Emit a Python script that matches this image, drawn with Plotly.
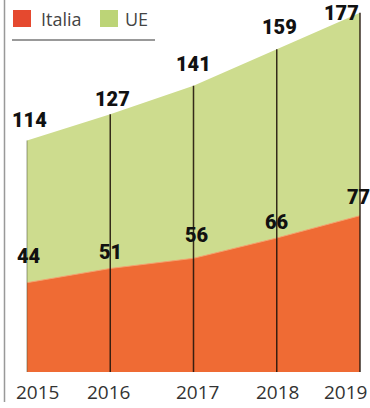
import plotly.graph_objects as go

# ---- data ----
years = [2015, 2016, 2017, 2018, 2019]
year_labels = ["2015", "2016", "2017", "2018", "2019"]
italia = [44, 51, 56, 66, 77]
ue = [114, 127, 141, 159, 177]
series_names = ["Italia", "UE"]

# ---- styles ----
W, H = 370, 408
ORANGE = "#EF6B34"
GREEN = "#CDDC8E"
LEG_RED = "#E5492F"
LEG_GREEN = "#BCD477"
px_per_year = 83.25
px_per_unit = 2.03
x0 = 2015 - 27 / px_per_year
x1 = x0 + W / px_per_year
y0 = -36 / px_per_unit
y1 = y0 + H / px_per_unit

ue_label_dx = [2, 2, 0, 3, -19]
ue_label_dy = [21, 15, 22, 22, 0]
it_label_dx = [1, 0, 3, 0, -2]
it_label_dy = [27, 16, 23, 16, 19]
year_dx = [10, -2, 4, 1, -15]

fig = go.Figure()
fig.add_trace(go.Scatter(x=years, y=ue, mode="lines", fill="tozeroy",
                         fillcolor=GREEN, line=dict(color=GREEN, width=0),
                         name=series_names[1], showlegend=False, hoverinfo="skip"))
fig.add_trace(go.Scatter(x=years, y=italia, mode="lines", fill="tozeroy",
                         fillcolor=ORANGE, line=dict(color="#F4A16F", width=1),
                         name=series_names[0], showlegend=False, hoverinfo="skip"))

# vertical year lines
vx, vy = [], []
for yr, v in zip(years[1:], ue[1:]):
    vx += [yr, yr, None]
    vy += [0, v, None]
fig.add_trace(go.Scatter(x=vx, y=vy, mode="lines",
                         line=dict(color="rgba(35,22,12,0.9)", width=1.5),
                         showlegend=False, hoverinfo="skip"))
fig.add_trace(go.Scatter(x=[years[0], years[0]], y=[0, ue[0]], mode="lines",
                         line=dict(color="rgba(70,80,50,0.45)", width=1.2),
                         showlegend=False, hoverinfo="skip"))

ann = []
lab_font = dict(family="Roboto", size=20, color="#111", weight=900)
for i, (yr, v) in enumerate(zip(years, ue)):
    ann.append(dict(x=yr, y=v, text=str(v), showarrow=False, font=lab_font,
                    xanchor="center", yanchor="middle", borderpad=0,
                    xshift=ue_label_dx[i], yshift=ue_label_dy[i]))
for i, (yr, v) in enumerate(zip(years, italia)):
    ann.append(dict(x=yr, y=v, text=str(v), showarrow=False, font=lab_font,
                    xanchor="center", yanchor="middle", borderpad=0,
                    xshift=it_label_dx[i], yshift=it_label_dy[i]))
for i, (yr, t) in enumerate(zip(years, year_labels)):
    ann.append(dict(x=yr, y=0, text=t, showarrow=False,
                    font=dict(family="Open Sans", size=19, color="#333"),
                    xanchor="center", yanchor="middle",
                    xshift=year_dx[i], yshift=-20))

def px(x):
    return x / W

def py(y):
    return 1 - y / H

# legend text
ann.append(dict(x=px(39), y=py(19), xref="paper", yref="paper", text=series_names[0],
                showarrow=False, xanchor="left", yanchor="middle",
                font=dict(family="Open Sans", size=18, color="#444")))
ann.append(dict(x=px(123), y=py(19), xref="paper", yref="paper", text=series_names[1],
                showarrow=False, xanchor="left", yanchor="middle",
                font=dict(family="Open Sans", size=18, color="#444")))

shapes = [
    dict(type="rect", xref="paper", yref="paper", x0=px(13), x1=px(31), y0=py(27), y1=py(10),
         fillcolor=LEG_RED, line=dict(width=0)),
    dict(type="rect", xref="paper", yref="paper", x0=px(100), x1=px(118), y0=py(27), y1=py(10),
         fillcolor=LEG_GREEN, line=dict(width=0)),
    dict(type="line", xref="paper", yref="paper", x0=px(12), x1=px(155), y0=py(40), y1=py(40),
         line=dict(color="#777", width=1.5)),
    dict(type="line", xref="paper", yref="paper", x0=px(4.5), x1=px(4.5), y0=py(0), y1=py(402),
         line=dict(color="#999", width=1.5)),
]

fig.update_layout(
    width=W, height=H, margin=dict(l=0, r=0, t=0, b=0),
    paper_bgcolor="white", plot_bgcolor="white",
    xaxis=dict(range=[x0, x1], visible=False, fixedrange=True),
    yaxis=dict(range=[y0, y1], visible=False, fixedrange=True),
    annotations=ann, shapes=shapes, showlegend=False,
)
fig.write_html("out.html")
